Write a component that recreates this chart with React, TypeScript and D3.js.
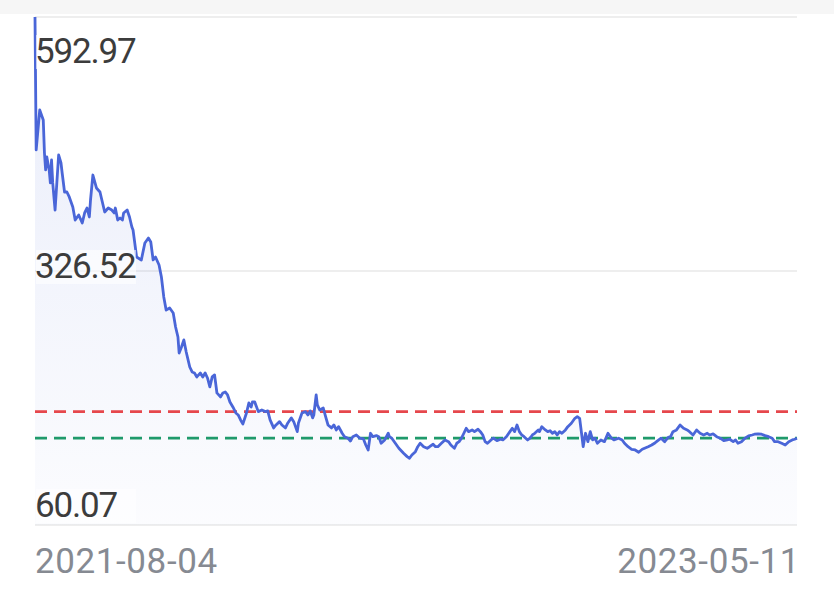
import React from "react";
import * as d3 from "d3";

// ---- data ----
const startDate = "2021-08-04";
const endDate = "2023-05-11";
const yTickLabels = ["592.97", "326.52", "60.07"];
const yMax = 592.97;
const yMin = 60.07;
const redLevel = 179.1;
const greenLevel = 151.3;

// days since start date
const dayOffsets = [
  0, 1, 4, 7, 8, 9, 10, 12, 13, 14, 15, 17, 20, 22, 23, 25, 27, 29, 32, 34, 37, 40, 42, 44, 46, 47, 49,
  52, 55, 57, 59, 62, 65, 67, 68, 70, 72, 74, 75, 78, 80, 82, 83, 86, 90, 93, 96, 98, 100, 102, 105, 107,
  109, 111, 114, 117, 119, 121, 122, 124, 126, 128, 131, 133, 135, 137, 140, 142, 144, 146, 148, 150, 152,
  154, 157, 159, 161, 163, 165, 168, 170, 172, 174, 176, 179, 181, 183, 184, 186, 189, 192, 195, 197, 199,
  202, 204, 207, 209, 212, 214, 217, 219, 222, 223, 226, 229, 231, 233, 235, 236, 238, 239, 241, 244, 246,
  248, 251, 253, 255, 257, 260, 262, 265, 267, 269, 272, 275, 278, 280, 282, 284, 286, 289, 291, 293, 296,
  299, 300, 302, 305, 308, 312, 315, 317, 319, 322, 324, 326, 329, 332, 334, 337, 339, 341, 344, 347, 350,
  352, 355, 357, 359, 361, 363, 365, 367, 370, 372, 375, 377, 379, 381, 383, 386, 388, 391, 394, 396, 399,
  402, 404, 406, 408, 410, 412, 414, 417, 419, 421, 423, 426, 427, 429, 432, 434, 436, 438, 440, 442, 444,
  446, 449, 451, 454, 457, 459, 461, 463, 464, 466, 468, 470, 472, 474, 476, 479, 482, 485, 488, 490, 494,
  497, 499, 502, 505, 508, 511, 514, 516, 519, 522, 525, 528, 530, 533, 536, 538, 540, 543, 546, 549, 552,
  554, 557, 560, 563, 566, 569, 571, 574, 577, 580, 583, 586, 588, 591, 593, 595, 598, 601, 604, 607, 609,
  612, 615, 618, 621, 624, 626, 629, 632, 635, 638, 641, 643, 645,
];

const prices = [
  592.97, 453.5, 495.4, 485.0, 450.3, 432.5, 446.1, 432.5, 418.9, 443.0, 418.9, 390.5, 448.2, 439.8, 429.3,
  409.4, 409.4, 404.2, 393.7, 380.0, 385.3, 376.9, 387.4, 392.6, 383.2, 401.0, 427.2, 413.6, 409.4, 398.9,
  388.4, 392.6, 390.5, 387.4, 392.6, 380.0, 382.1, 380.0, 387.4, 390.5, 383.2, 372.7, 369.5, 341.2, 338.1,
  355.9, 361.1, 357.0, 338.1, 341.2, 332.8, 320.2, 299.3, 285.6, 287.7, 282.5, 267.8, 257.3, 240.5, 246.8,
  254.2, 241.6, 225.8, 220.6, 219.6, 215.4, 219.6, 215.4, 219.6, 214.3, 204.9, 215.4, 217.5, 198.6, 194.4,
  198.6, 199.6, 196.5, 189.1, 182.8, 177.6, 175.5, 170.3, 166.1, 177.6, 188.1, 183.9, 189.1, 189.1, 179.0,
  180.7, 179.0, 179.7, 170.3, 161.9, 165.0, 168.5, 165.0, 161.9, 167.1, 172.4, 168.5, 158.0, 167.1, 177.6,
  179.0, 175.5, 179.7, 172.4, 175.5, 196.5, 186.0, 180.7, 182.8, 173.7, 165.0, 161.9, 165.0, 159.8, 163.2,
  156.3, 152.7, 151.1, 148.2, 152.7, 154.5, 151.1, 150.3, 144.0, 138.8, 156.3, 152.7, 153.8, 152.7, 145.8,
  149.3, 156.3, 152.7, 151.1, 145.8, 140.6, 135.3, 131.8, 130.1, 133.5, 137.0, 142.2, 145.8, 142.2, 140.6,
  142.2, 144.8, 142.2, 142.2, 145.8, 149.3, 147.5, 144.0, 140.6, 145.8, 147.5, 151.1, 156.3, 161.5, 158.0,
  159.8, 158.0, 160.5, 158.0, 154.5, 147.5, 145.8, 149.3, 151.1, 148.5, 150.0, 149.3, 152.7, 158.0, 161.5,
  158.0, 165.0, 158.0, 154.5, 152.7, 149.3, 151.1, 154.5, 156.3, 159.8, 158.0, 163.2, 159.8, 158.0, 159.0,
  156.3, 158.0, 154.5, 158.0, 156.3, 159.8, 163.2, 166.8, 172.0, 173.7, 172.0, 152.7, 142.2, 156.3, 147.5,
  158.0, 149.3, 151.1, 145.8, 149.3, 147.5, 156.3, 151.1, 149.3, 151.1, 149.3, 145.8, 142.2, 139.5, 138.8,
  136.4, 139.5, 140.6, 142.2, 144.0, 146.4, 149.3, 151.1, 147.5, 152.1, 152.7, 158.0, 159.8, 165.0, 161.5,
  159.8, 158.0, 154.5, 159.8, 156.3, 154.5, 156.3, 154.5, 155.6, 152.7, 151.1, 148.5, 149.3, 150.0, 147.5,
  149.3, 145.8, 147.5, 151.1, 153.5, 154.5, 155.3, 155.6, 155.3, 153.8, 152.7, 151.1, 147.5, 147.5, 145.8,
  144.0, 147.5, 149.3, 150.0, 151.1,
];

// ---- layout ----
const W = 834;
const H = 597;
const M = { left: 35, right: 797, top: 17, bottom: 525 };
const yLabelOffsets = [46, 7, -8];

export default function App() {
  const parse = d3.timeParse("%Y-%m-%d");
  const start = parse(startDate) as Date;
  const end = parse(endDate) as Date;
  const data = dayOffsets.map((d, i) => ({ date: d3.timeDay.offset(start, d), v: prices[i] }));

  const x = d3.scaleTime().domain([start, end]).range([M.left, M.right]);
  const y = d3.scaleLinear().domain([yMin, yMax]).range([M.bottom, M.top]);

  const line = d3
    .line<{ date: Date; v: number }>()
    .x((d) => x(d.date))
    .y((d) => y(d.v));
  const area = d3
    .area<{ date: Date; v: number }>()
    .x((d) => x(d.date))
    .y0(y(yMin))
    .y1((d) => y(d.v));

  const fontFamily = "Roboto, 'Noto Sans', sans-serif";

  return (
    <svg
      width={W}
      height={H}
      style={{ position: "absolute", left: 0, top: 0, background: "#ffffff" }}
    >
      <defs>
        <linearGradient id="areaGrad" x1="0" y1="0" x2="0" y2="1">
          <stop offset="0%" stopColor="#4a67d6" stopOpacity={0.12} />
          <stop offset="100%" stopColor="#4a67d6" stopOpacity={0.02} />
        </linearGradient>
      </defs>
      <rect x={0} y={0} width={W} height={14} fill="#f6f6f6" />
      {yTickLabels.map((t, i) => (
        <line
          key={"g" + i}
          x1={M.left}
          x2={M.right}
          y1={y(+t)}
          y2={y(+t)}
          stroke="#eeeeee"
          strokeWidth={2}
        />
      ))}
      <path d={area(data) || ""} fill="url(#areaGrad)" />
      <line
        x1={M.left}
        x2={M.right}
        y1={y(redLevel)}
        y2={y(redLevel)}
        stroke="#e6474c"
        strokeWidth={2.8}
        strokeDasharray="12 7"
      />
      <line
        x1={M.left}
        x2={M.right}
        y1={y(greenLevel)}
        y2={y(greenLevel)}
        stroke="#1f9a6b"
        strokeWidth={2.8}
        strokeDasharray="12 7"
      />
      <path
        d={line(data) || ""}
        fill="none"
        stroke="#4a66d8"
        strokeWidth={2.8}
        strokeLinejoin="round"
      />
      {yTickLabels.map((t, i) => (
        <g key={"l" + i}>
          <rect
            x={M.left + 1}
            y={y(+t) + yLabelOffsets[i] - 28}
            width={100}
            height={34}
            fill="#ffffff"
            opacity={0.6}
          />
          <text
            x={M.left + 0}
            y={y(+t) + yLabelOffsets[i]}
            fontFamily={fontFamily}
            fontSize={35}
            letterSpacing={-1.2}
            fill="#3c3c3c"
          >
            {t}
          </text>
        </g>
      ))}
      <text x={M.left} y={573} fontFamily={fontFamily} fontSize={35} letterSpacing={0.6} fill="#868a92">
        {d3.timeFormat("%Y-%m-%d")(start)}
      </text>
      <text
        x={M.right + 3}
        y={573}
        textAnchor="end"
        fontFamily={fontFamily}
        fontSize={35}
        letterSpacing={0.6}
        fill="#868a92"
      >
        {d3.timeFormat("%Y-%m-%d")(end)}
      </text>
    </svg>
  );
}
